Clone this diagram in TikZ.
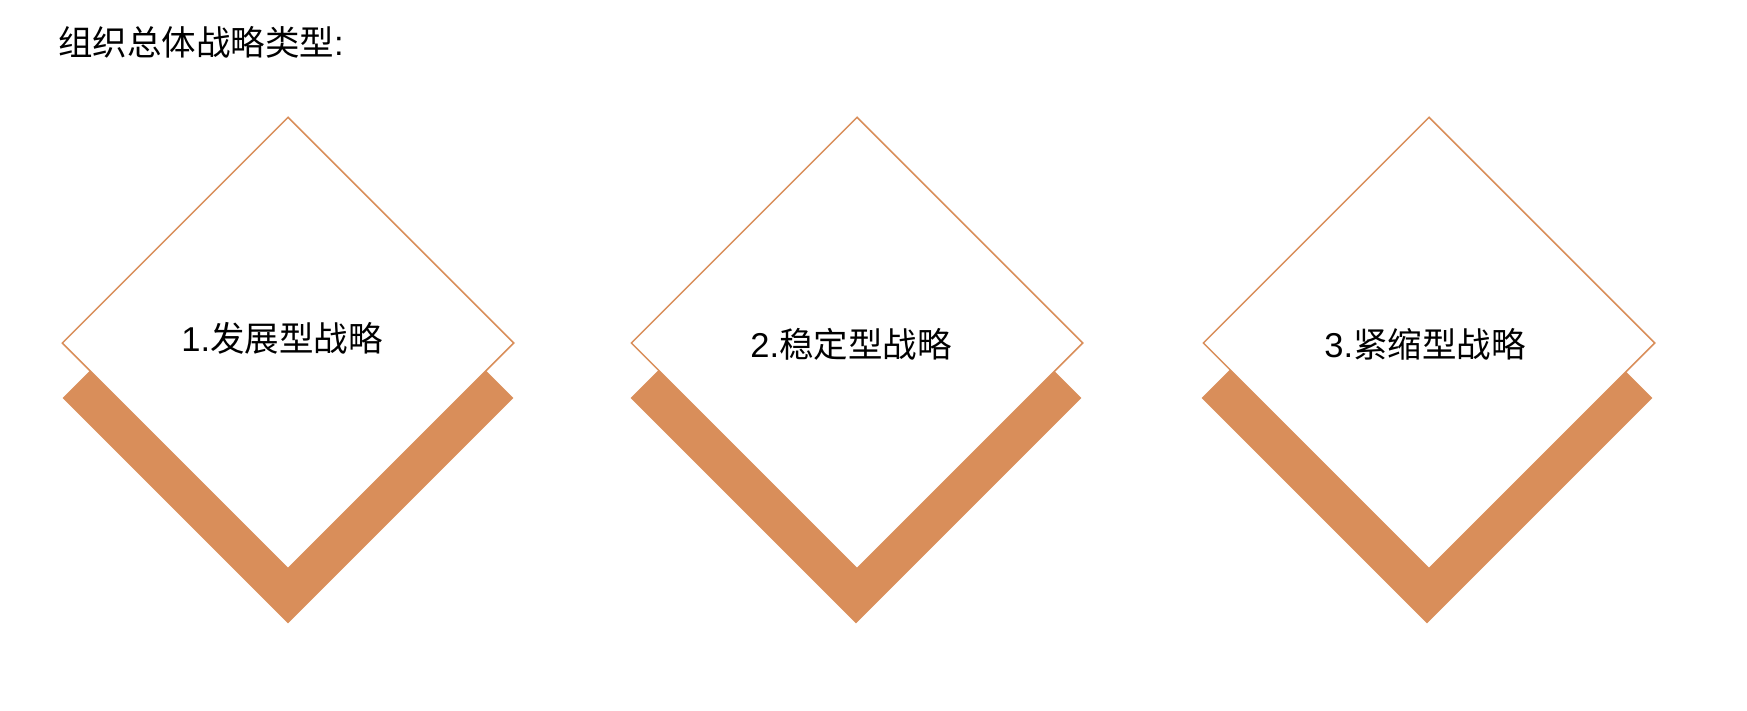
\documentclass[tikz,border=0pt]{standalone}
\usepackage{fontspec}
\setmainfont{Liberation Sans}
\newfontfamily\cjk{Noto Sans CJK SC}
\usetikzlibrary{shapes.geometric}
\definecolor{corange}{HTML}{D98E5A}
\tikzstyle{cshadow} = [diamond, aspect=1, inner sep=0pt, minimum size=451pt, fill=corange]
\tikzstyle{cface}   = [diamond, aspect=1, inner sep=0pt, minimum size=452pt, fill=white, draw=corange, line width=1.5pt]
\tikzstyle{ctext}   = [inner sep=0pt, font=\fontsize{34.5}{40}\selectfont]

\begin{document}
\begin{tikzpicture}[x=1pt,y=-1pt]
  \useasboundingbox (0,0) rectangle (1747,711);
  \node[ctext, anchor=base west] (title) at (58,56) {{\cjk 组织总体战略类型}:};
  \foreach \i/\x/\dx/\lx/\ly/\name in {1/288/0/-6/338/发展型战略, 2/857/-1/-6/344/稳定型战略, 3/1429/-2/-4/344/紧缩型战略} {
    \node[cshadow] (shadow\i) at (\x+\dx, 398) {};
    \node[cface]   (type\i)   at (\x, 343) {};
    \node[ctext]   (label\i)  at (\x+\lx, \ly) {\i.{\cjk \name}};
  }
\end{tikzpicture}
\end{document}
